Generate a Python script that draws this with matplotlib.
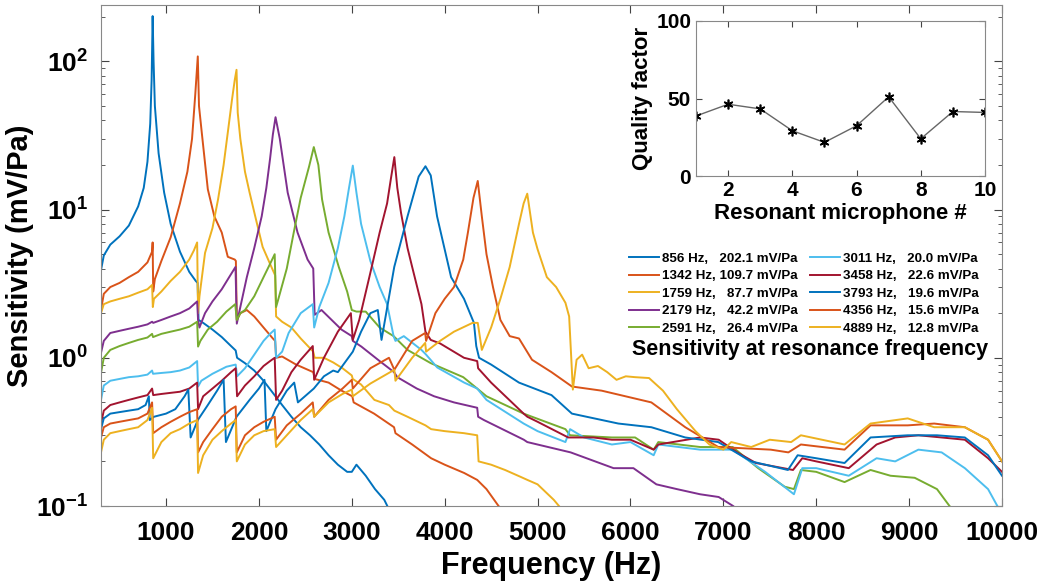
import matplotlib.pyplot as plt
from matplotlib.ticker import FixedLocator, NullFormatter
import numpy as np

plt.rcParams['font.family'] = ['Liberation Sans', 'DejaVu Sans']
plt.rcParams['font.weight'] = 'bold'
plt.rcParams['mathtext.fontset'] = 'custom'
plt.rcParams['mathtext.rm'] = 'Liberation Sans:bold'
plt.rcParams['mathtext.bf'] = 'Liberation Sans:bold'

# resonant frequencies / peak sensitivities (legend)
res_freq = [856, 1342, 1759, 2179, 2591, 3011, 3458, 3793, 4356, 4889]
res_sens = [202.1, 109.7, 87.7, 42.2, 26.4, 20.0, 22.6, 19.6, 15.6, 12.8]
colors = ['#0072BD', '#D95319', '#EDB120', '#7E2F8E', '#77AC30',
          '#4DBEEE', '#A2142F', '#0072BD', '#D95319', '#EDB120']

# response curves (Hz, mV/Pa)
f1 = [300, 330, 400, 500, 600, 700, 760, 800, 830, 845, 856, 866, 880, 920, 980, 1050, 1150, 1250, 1320,
      1340, 1350, 1400, 1500, 1600, 1700, 1750, 1765, 1850, 1950, 2050, 2150, 2250, 2350, 2450, 2550, 2650,
      2750, 2850, 2950, 3000, 3050, 3150, 3250, 3350, 3400]
s1 = [3.9, 4.9, 5.8, 6.6, 7.8, 10.5, 14, 21, 38, 75, 202, 100, 50, 24, 13, 8, 5.2, 3.8, 3.3,
      3.2, 1.8, 1.72, 1.55, 1.38, 1.2, 1.12, 1.0, 0.92, 0.82, 0.7, 0.58, 0.48, 0.4, 0.34, 0.3, 0.26,
      0.22, 0.19, 0.17, 0.17, 0.19, 0.16, 0.13, 0.11, 0.095]

f2 = [300, 330, 400, 500, 600, 700, 800, 850, 856, 862, 880, 950, 1050, 1150, 1230, 1280, 1315, 1342,
      1355, 1385, 1450, 1520, 1600, 1665, 1740, 1752, 1762, 1800, 1870, 1950, 2050, 2150, 2175, 2185,
      2250, 2400, 2585, 2600, 2750, 2890, 3005, 3020, 3240, 3455, 3470, 3650, 3854, 4000, 4210, 4350,
      4450, 4580, 4650]
s2 = [2.1, 2.7, 3.0, 3.2, 3.5, 3.8, 4.4, 5.2, 6.0, 2.8, 3.4, 4.5, 6.5, 11, 18, 30, 60, 108,
      50, 33, 13.7, 9, 7, 4.8, 4.6, 4.5, 1.8, 2.0, 2.1, 1.9, 1.6, 1.35, 1.3, 1.0,
      1.02, 0.9, 0.8, 0.72, 0.68, 0.6, 0.55, 0.5, 0.42, 0.34, 0.31, 0.26, 0.21, 0.19, 0.167, 0.15,
      0.13, 0.1, 0.09]

f3 = [300, 330, 400, 500, 600, 700, 800, 850, 858, 870, 950, 1050, 1150, 1250, 1300, 1335, 1345, 1360,
      1420, 1500, 1560, 1620, 1670, 1710, 1740, 1759, 1772, 1800, 1850, 1900, 1970, 2040, 2120, 2175,
      2185, 2250, 2350, 2450, 2585, 2600, 2700, 2800, 2900, 3000, 3010, 3100, 3243, 3400, 3458, 3600,
      3793, 3854, 4000, 4208, 4350, 4365, 4500, 4650, 4820, 4890, 5000, 5175, 5260]
s3 = [2.0, 2.3, 2.4, 2.5, 2.6, 2.75, 2.9, 3.1, 2.2, 2.5, 2.8, 3.3, 3.8, 4.6, 5.3, 6.0, 2.0, 2.6,
      5.1, 7.5, 11.7, 20, 35, 55, 75, 87.7, 45, 30, 18, 13, 8.5, 5.6, 4.3, 3.6,
      1.9, 1.75, 1.6, 1.35, 1.1, 1.0, 1.0, 0.93, 0.85, 0.76, 0.72, 0.66, 0.52, 0.48, 0.44, 0.4,
      0.35, 0.33, 0.32, 0.31, 0.3, 0.2, 0.19, 0.175, 0.157, 0.15, 0.14, 0.11, 0.095]

f4 = [300, 330, 400, 500, 600, 700, 800, 850, 862, 950, 1050, 1150, 1250, 1335, 1345, 1360, 1420, 1500,
      1600, 1680, 1748, 1762, 1800, 1870, 1950, 2030, 2080, 2120, 2150, 2179, 2225, 2310, 2416, 2524,
      2585, 2600, 2674, 2889, 3000, 3011, 3103, 3300, 3455, 3490, 3700, 3886, 4100, 4350, 4360, 4423,
      4852, 4889, 5356, 5818, 6032, 6279, 6500, 6750, 6950, 7105, 7200]
s4 = [1.08, 1.3, 1.47, 1.52, 1.57, 1.62, 1.68, 1.75, 1.72, 1.8, 1.9, 2.0, 2.15, 2.4, 1.8, 1.6, 2.0, 2.4,
      2.9, 3.5, 4.1, 1.7, 2.2, 3.5, 5.5, 9, 14, 22, 32, 42, 30, 13, 7, 4.6,
      4.0, 1.95, 2.1, 1.55, 1.4, 1.3, 1.19, 0.95, 0.8, 0.74, 0.62, 0.55, 0.5, 0.46, 0.4, 0.38,
      0.28, 0.27, 0.23, 0.18, 0.18, 0.14, 0.13, 0.12, 0.115, 0.1, 0.09]

f5 = [300, 330, 400, 500, 600, 700, 800, 850, 860, 950, 1050, 1150, 1250, 1335, 1345, 1370, 1450, 1550,
      1650, 1745, 1762, 1800, 1850, 1950, 2050, 2120, 2170, 2185, 2210, 2300, 2375, 2450, 2540, 2591,
      2640, 2680, 2750, 2860, 2950, 3000, 3050, 3150, 3300, 3450, 3600, 3850, 4200, 4350, 4450, 4850,
      5300, 5350, 5800, 6050, 6250, 6300, 6750, 7100, 7375, 7660, 7760, 7835, 8000, 8305, 8585, 8800,
      9060, 9300, 9435, 9550]
s5 = [0.79, 1.0, 1.13, 1.2, 1.26, 1.32, 1.37, 1.45, 1.38, 1.45, 1.5, 1.55, 1.62, 1.75, 1.19, 1.3, 1.55, 1.75,
      2.05, 2.3, 1.8, 2.0, 2.1, 2.6, 3.5, 4.3, 5.0, 2.2, 2.5, 4.0, 7, 12, 19.5, 26.4,
      20, 11.7, 7, 4.1, 2.8, 2.1, 2.05, 2.05, 1.6, 1.4, 1.13, 0.92, 0.74, 0.62, 0.55, 0.42,
      0.33, 0.3, 0.29, 0.29, 0.24, 0.27, 0.25, 0.25, 0.18, 0.135, 0.13, 0.175, 0.17, 0.145, 0.175, 0.16,
      0.155, 0.13, 0.1, 0.085]

f6 = [300, 330, 400, 500, 600, 700, 800, 850, 860, 950, 1050, 1150, 1250, 1335, 1345, 1380, 1500, 1650,
      1750, 1765, 1850, 1950, 2050, 2120, 2170, 2185, 2250, 2320, 2450, 2580, 2595, 2650, 2750, 2850,
      2920, 2970, 3011, 3050, 3100, 3200, 3300, 3380, 3450, 3470, 3560, 3750, 3800, 3920, 4210, 4350,
      4450, 4850, 5000, 5300, 5350, 5500, 5800, 6000, 6250, 6300, 6750, 7100, 7450, 7760, 7850, 8000,
      8350, 8650, 8850, 9100, 9350, 9600, 9850, 9950]
s6 = [0.52, 0.65, 0.7, 0.72, 0.74, 0.75, 0.77, 0.82, 0.78, 0.79, 0.8, 0.82, 0.86, 0.95, 0.64, 0.7, 0.78, 0.87,
      0.9, 0.75, 0.85, 1.05, 1.3, 1.45, 1.55, 1.0, 1.1, 1.47, 2.0, 2.3, 1.6, 2.2, 3.2, 5.5,
      9, 14, 19.8, 13, 8, 4.5, 3.0, 2.3, 1.4, 1.3, 1.4, 1.13, 1.05, 0.86, 0.68, 0.62,
      0.52, 0.36, 0.32, 0.27, 0.33, 0.29, 0.26, 0.27, 0.22, 0.26, 0.24, 0.24, 0.17, 0.12, 0.18, 0.18,
      0.16, 0.21, 0.2, 0.24, 0.23, 0.18, 0.13, 0.1]

f7 = [300, 330, 400, 500, 600, 700, 800, 850, 862, 950, 1050, 1150, 1250, 1335, 1345, 1400, 1500, 1600,
      1700, 1750, 1765, 1850, 1950, 2050, 2120, 2170, 2185, 2250, 2350, 2450, 2580, 2595, 2700, 2850,
      2990, 3011, 3080, 3200, 3300, 3380, 3420, 3458, 3490, 3530, 3600, 3650, 3750, 3793, 3850, 3950,
      4208, 4350, 4360, 4500, 4850, 4890, 5000, 5330, 5600, 5800, 6000, 6250, 6300, 6750, 6950, 7150,
      7350, 7750, 7850, 8000, 8350, 8650, 8850, 9100, 9350, 9600, 9850, 10000]
s7 = [0.36, 0.44, 0.48, 0.5, 0.52, 0.54, 0.56, 0.62, 0.56, 0.57, 0.58, 0.59, 0.62, 0.68, 0.45, 0.55, 0.62, 0.7,
      0.8, 0.85, 0.55, 0.65, 0.75, 0.88, 0.95, 1.0, 0.52, 0.6, 0.8, 0.97, 1.2, 0.71, 1.0, 1.5,
      2.0, 1.32, 1.8, 3.75, 7, 11, 16, 22.6, 14, 9.5, 5.5, 4.1, 2.3, 1.5, 1.32, 1.25,
      1.0, 0.95, 0.85, 0.68, 0.42, 0.4, 0.37, 0.29, 0.29, 0.28, 0.28, 0.24, 0.26, 0.29, 0.28, 0.23,
      0.195, 0.175, 0.21, 0.2, 0.18, 0.26, 0.29, 0.3, 0.29, 0.28, 0.21, 0.17]

f8 = [300, 330, 400, 500, 600, 700, 780, 815, 825, 870, 1000, 1100, 1200, 1240, 1265, 1342, 1450, 1550,
      1620, 1645, 1759, 1900, 2000, 2060, 2080, 2179, 2300, 2380, 2420, 2591, 2700, 2800, 2850, 3011,
      3100, 3200, 3280, 3320, 3457, 3600, 3720, 3793, 3850, 3918, 4069, 4208, 4315, 4340, 4370, 4500,
      4800, 5150, 5370, 5870, 6225, 6590, 6945, 7300, 7695, 7800, 8000, 8305, 8585, 8985, 9300, 9600,
      9850, 10000]
s8 = [0.33, 0.39, 0.42, 0.43, 0.44, 0.45, 0.48, 0.55, 0.38, 0.4, 0.42, 0.45, 0.55, 0.61, 0.29, 0.38, 0.48, 0.6,
      0.71, 0.27, 0.4, 0.52, 0.62, 0.71, 0.32, 0.45, 0.6, 0.68, 0.5, 0.62, 0.75, 0.82, 0.8, 1.1,
      1.5, 2.0, 2.1, 1.32, 4.1, 9, 16.7, 19.6, 17, 9, 3.5, 2.5, 1.72, 1.2, 1.0, 0.9,
      0.68, 0.56, 0.42, 0.36, 0.34, 0.29, 0.27, 0.2, 0.175, 0.22, 0.21, 0.195, 0.29, 0.3, 0.3, 0.29,
      0.22, 0.16]

f9 = [300, 330, 400, 500, 600, 700, 800, 850, 862, 950, 1050, 1150, 1250, 1335, 1345, 1400, 1500, 1600,
      1700, 1750, 1762, 1850, 1950, 2050, 2170, 2185, 2300, 2450, 2580, 2595, 2750, 2900, 3000, 3011,
      3200, 3400, 3458, 3650, 3790, 3800, 3900, 4000, 4100, 4200, 4250, 4310, 4356, 4400, 4450, 4520,
      4600, 4700, 4800, 4940, 5150, 5370, 5690, 6225, 6590, 6945, 7510, 7700, 7835, 8305, 8585, 8985,
      9270, 9600, 9850, 10000]
s9 = [0.29, 0.34, 0.36, 0.37, 0.38, 0.39, 0.42, 0.5, 0.31, 0.34, 0.37, 0.4, 0.43, 0.45, 0.23, 0.27, 0.33, 0.4,
      0.45, 0.47, 0.23, 0.3, 0.34, 0.37, 0.4, 0.28, 0.35, 0.42, 0.5, 0.4, 0.52, 0.62, 0.71, 0.62,
      0.85, 1.0, 0.83, 1.3, 1.47, 1.3, 2.0, 2.5, 3.0, 4.6, 7, 12, 15.6, 9, 5, 3.0,
      1.8, 1.4, 1.35, 0.97, 0.8, 0.64, 0.6, 0.5, 0.34, 0.25, 0.24, 0.23, 0.26, 0.24, 0.35, 0.35,
      0.36, 0.34, 0.28, 0.2]

f10 = [300, 330, 400, 500, 600, 700, 800, 850, 862, 950, 1050, 1150, 1250, 1335, 1345, 1400, 1500, 1600,
       1700, 1750, 1762, 1850, 1950, 2050, 2170, 2185, 2300, 2450, 2580, 2595, 2750, 2900, 3000, 3011,
       3200, 3458, 3470, 3650, 3790, 3800, 3950, 4100, 4300, 4356, 4400, 4500, 4600, 4700, 4800, 4850,
       4889, 4950, 5000, 5100, 5200, 5300, 5340, 5380, 5420, 5480, 5550, 5650, 5750, 5850, 5950, 6050,
       6200, 6350, 6500, 6700, 6850, 7000, 7085, 7300, 7500, 7730, 7835, 8305, 8585, 8985, 9270, 9600,
       9850, 10000]
s10 = [0.23, 0.28, 0.31, 0.32, 0.33, 0.34, 0.38, 0.46, 0.21, 0.27, 0.31, 0.33, 0.36, 0.38, 0.167, 0.22, 0.28, 0.32,
       0.36, 0.38, 0.2, 0.26, 0.3, 0.32, 0.33, 0.25, 0.3, 0.38, 0.45, 0.4, 0.5, 0.57, 0.61, 0.55,
       0.67, 0.83, 0.7, 1.0, 1.26, 1.1, 1.3, 1.5, 1.72, 1.72, 1.13, 1.6, 2.5, 4.1, 8, 11,
       12.8, 7, 5.4, 3.5, 3.0, 2.35, 1.9, 0.61, 0.97, 1.05, 0.85, 0.88, 0.8, 0.71, 0.75, 0.74,
       0.73, 0.6, 0.45, 0.32, 0.26, 0.24, 0.27, 0.25, 0.28, 0.27, 0.3, 0.26, 0.36, 0.39, 0.34, 0.34,
       0.28, 0.2]

freqs = [f1, f2, f3, f4, f5, f6, f7, f8, f9, f10]
sens = [s1, s2, s3, s4, s5, s6, s7, s8, s9, s10]

# quality factor inset
mic_no = [1, 2, 3, 4, 5, 6, 7, 8, 9, 10]
q_factor = [38.7, 46.3, 43.3, 29.2, 21.7, 32.4, 51.1, 24.0, 41.6, 41.0]

fig = plt.figure(figsize=(10.5, 5.85), dpi=100)
ax = fig.add_axes([101 / 1050, 1 - 506 / 585, 901 / 1050, 501 / 585])

lines = []
for f, s, c, fr, sr in zip(freqs, sens, colors, res_freq, res_sens):
    # pad with spaces so the columns line up like the original legend
    pad = ' ' + '  ' * (fr < 1000) + '  ' * (sr < 100)
    ln, = ax.plot(f, s, color=c, lw=1.4, label=f'{fr} Hz,{pad}{sr:.1f} mV/Pa')
    lines.append(ln)

ax.set_yscale('log')
ax.set_xlim(300, 10000)
ax.set_ylim(0.1, 240)
ax.set_xticks(range(1000, 10001, 1000))
ax.set_xticklabels([str(v) for v in range(1000, 10001, 1000)], fontsize=19, fontweight='bold')
ax.yaxis.set_major_locator(FixedLocator([0.1, 1, 10, 100]))
ax.set_yticklabels([r'$\mathbf{10^{-1}}$', r'$\mathbf{10^{0}}$', r'$\mathbf{10^{1}}$', r'$\mathbf{10^{2}}$'],
                   fontsize=19)
ax.yaxis.set_minor_formatter(NullFormatter())
ax.tick_params(which='both', direction='in', top=True, right=True, colors='#444444', labelcolor='black')
ax.tick_params(which='major', length=6)
ax.tick_params(which='minor', length=3)
ax.tick_params(axis='x', pad=11)
ax.tick_params(axis='y', pad=9)
for sp in ax.spines.values():
    sp.set_color('#888888')
ax.set_xlabel('Frequency (Hz)', fontsize=22, fontweight='bold', labelpad=4)
ax.set_ylabel('Sensitivity (mV/Pa)', fontsize=21, fontweight='bold', labelpad=2)

ax.legend(handles=lines, ncol=2, loc='upper left', bbox_to_anchor=(622 / 1050, 1 - 246 / 585),
          bbox_transform=fig.transFigure, frameon=False, prop={'size': 9.6, 'weight': 'bold'},
          handlelength=2.3, handletextpad=0.2, columnspacing=0.9, labelspacing=0.38, borderpad=0)
fig.text(810 / 1050, 1 - 349 / 585, 'Sensitivity at resonance frequency', ha='center', va='center',
         fontsize=15.5, fontweight='bold')

ax2 = fig.add_axes([696 / 1050, 1 - 176 / 585, 289 / 1050, 155 / 585])
ax2.plot(mic_no, q_factor, color='#666666', lw=1, marker=(6, 2, 0), markersize=7,
         markeredgewidth=1.2, markeredgecolor='black')
ax2.set_xlim(1, 10)
ax2.set_ylim(0, 100)
ax2.set_xticks([2, 4, 6, 8, 10])
ax2.set_yticks([0, 50, 100])
ax2.tick_params(direction='in', top=True, right=True, labelsize=15, colors='#444444', labelcolor='black', length=4)
for t in ax2.get_xticklabels() + ax2.get_yticklabels():
    t.set_fontweight('bold')
for sp in ax2.spines.values():
    sp.set_color('#888888')
ax2.set_xlabel('Resonant microphone #', fontsize=16, fontweight='bold', labelpad=2)
ax2.set_ylabel('Quality factor', fontsize=16, fontweight='bold', labelpad=2)

fig.savefig('out.png', dpi=100)
